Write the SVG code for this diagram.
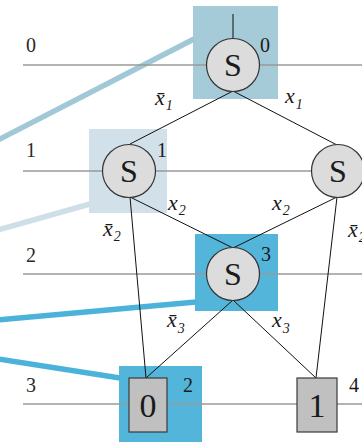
<svg xmlns="http://www.w3.org/2000/svg" width="362" height="442" viewBox="0 0 362 442" font-family="'Liberation Serif', 'Times New Roman', serif">
  <style>
    text { fill: #1a1a1a; }
    .row { font-size: 20px; fill: #2a2a2a; }
    .tag { font-size: 20px; }
    .lit { font-size: 22px; font-style: italic; }
    .sub { font-size: 14px; font-style: italic; }
    .s { font-size: 32px; text-anchor: middle; }
    .t { font-size: 34px; text-anchor: middle; }
    .level { stroke: #9a9a9a; stroke-width: 1.3; }
    .edge { stroke: #111; stroke-width: 1; fill: none; }
    .dec { fill: #dcdcdc; stroke: #333; stroke-width: 1.2; }
    .term { fill: #c0c0c0; stroke: #3a3a3a; stroke-width: 1.2; }
    .lead { stroke-width: 5.5; fill: none; }
  </style>

  <!-- highlight squares -->
  <g id="highlights">
    <rect x="193" y="6" width="85" height="93" fill="#a5cad8"/>
    <rect x="89" y="129" width="78" height="84" fill="#d2e0e9"/>
    <rect x="195" y="234" width="83" height="77" fill="#54b5db"/>
    <rect x="119" y="366" width="83" height="78" fill="#54b5db"/>
  </g>

  <!-- leader lines -->
  <g id="leaders">
    <line class="lead" x1="194" y1="39" x2="-2" y2="140" stroke="#a0c8d6"/>
    <line class="lead" x1="90" y1="204" x2="-2" y2="230" stroke="#cfdfe8"/>
    <line class="lead" x1="196" y1="302" x2="-2" y2="320" stroke="#4bb3da"/>
    <line class="lead" x1="-2" y1="359" x2="120" y2="378" stroke="#4bb3da"/>
  </g>

  <!-- level lines and row numbers -->
  <g id="levels">
    <line class="level" x1="23" y1="65" x2="362" y2="65"/>
    <line class="level" x1="23" y1="171" x2="362" y2="171"/>
    <line class="level" x1="23" y1="274" x2="362" y2="274"/>
    <line class="level" x1="23" y1="404" x2="362" y2="404"/>
    <text class="row" x="26" y="52">0</text>
    <text class="row" x="26" y="157">1</text>
    <text class="row" x="26" y="262">2</text>
    <text class="row" x="26" y="392">3</text>
  </g>

  <!-- connectors -->
  <g id="connectors">
    <line class="edge" x1="233" y1="14" x2="233" y2="39"/>
    <line class="edge" x1="233" y1="91" x2="130" y2="144"/>
    <line class="edge" x1="233" y1="91" x2="337" y2="145"/>
    <line class="edge" x1="130" y1="197" x2="233" y2="248"/>
    <line class="edge" x1="337" y1="197" x2="233" y2="248"/>
    <line class="edge" x1="130" y1="197" x2="146" y2="378"/>
    <line class="edge" x1="337" y1="197" x2="316" y2="378"/>
    <line class="edge" x1="233" y1="300" x2="146" y2="378"/>
    <line class="edge" x1="233" y1="300" x2="316" y2="378"/>
    <text class="lit" x="155" y="105">x̄<tspan class="sub" dx="1" dy="5">1</tspan></text>
    <text class="lit" x="285" y="103">x<tspan class="sub" dx="1" dy="6">1</tspan></text>
    <text class="lit" x="168" y="210">x<tspan class="sub" dx="1" dy="5">2</tspan></text>
    <text class="lit" x="103" y="236">x̄<tspan class="sub" dx="1" dy="5">2</tspan></text>
    <text class="lit" x="272" y="210">x<tspan class="sub" dx="1" dy="5">2</tspan></text>
    <text class="lit" x="348" y="237">x̄<tspan class="sub" dx="1" dy="5">2</tspan></text>
    <text class="lit" x="167" y="327">x̄<tspan class="sub" dx="1" dy="6">3</tspan></text>
    <text class="lit" x="272" y="327">x<tspan class="sub" dx="1" dy="6">3</tspan></text>
  </g>

  <!-- decision nodes -->
  <g id="node0">
    <circle class="dec" cx="233" cy="65" r="26.5"/>
    <text class="s" x="233" y="76">S</text>
    <text class="tag" x="260" y="52">0</text>
  </g>
  <g id="node1">
    <circle class="dec" cx="129" cy="171" r="26.5"/>
    <text class="s" x="129" y="182">S</text>
    <text class="tag" x="157" y="157">1</text>
  </g>
  <g id="node1b">
    <circle class="dec" cx="338" cy="171" r="26.5"/>
    <text class="s" x="338" y="182">S</text>
  </g>
  <g id="node3">
    <circle class="dec" cx="233" cy="274" r="26.5"/>
    <text class="s" x="233" y="285">S</text>
    <text class="tag" x="261" y="261">3</text>
  </g>

  <!-- terminal nodes -->
  <g id="term0">
    <rect class="term" x="129" y="378" width="38" height="54"/>
    <text class="t" x="148" y="417">0</text>
    <text class="tag" x="183" y="392">2</text>
  </g>
  <g id="term1">
    <rect class="term" x="297" y="378" width="40" height="54"/>
    <text class="t" x="317" y="417">1</text>
    <text class="tag" x="349" y="392">4</text>
  </g>
</svg>
